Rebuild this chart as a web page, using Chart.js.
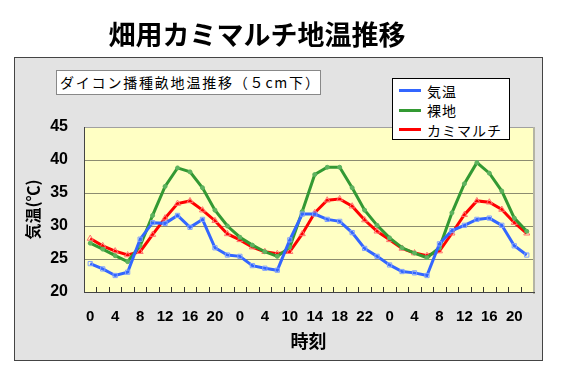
<!DOCTYPE html>
<html>
<head>
<meta charset="utf-8">
<script src="https://cdn.jsdelivr.net/npm/chart.js@4.4.1/dist/chart.umd.min.js"></script>
<style>
    body { margin: 0; width: 568px; height: 381px; background: #fff; position: relative; overflow: hidden; font-family: "Noto Sans CJK JP", sans-serif; }
    #frame { position: absolute; left: 14px; top: 57px; width: 527px; height: 302px; background: #e3e3e3; border: 1px solid #444; }
    #tempGraph { position: absolute; left: 0; top: 0; }
    #title { position: absolute; left: 0; top: 16px; width: 514px; text-align: center; font-weight: bold; font-size: 27px; line-height: 36px; color: #000; }
    #subTitle { position: absolute; left: 56px; top: 70px; width: 260px; height: 23px; padding-left: 3px; background: #fff; border: 1px solid #888; font-size: 14px; line-height: 23px; letter-spacing: 1.8px; white-space: nowrap; color: #000; }
    #legend { position: absolute; left: 392px; top: 78px; width: 116px; height: 58px; padding-top: 2px; background: #fff; border: 1px solid #000; }
    .row { height: 19.5px; display: flex; align-items: center; font-size: 14px; letter-spacing: 1px; color: #000; }
    .swatch { width: 22px; height: 3px; margin: 0 6px 0 6px; }
</style>
</head>
<body>
<div id="frame"></div>
<canvas id="tempGraph" width="568" height="381"></canvas>
<div id="title">畑用カミマルチ地温推移</div>
<div id="subTitle">ダイコン播種畝地温推移（５cm下）</div>
<div id="legend"></div>
<script>
// time of day, one point every 2 hours (only every other label is shown)
const hours = ['0','2','4','6','8','10','12','14','16','18','20','22',
               '0','2','4','6','10','12','14','16','18','20','22','23',
               '0','2','4','6','8','10','12','14','16','18','20','22'];

const airTemp = [24.3, 23.5, 22.5, 23.0, 28.0, 30.5, 30.4, 31.6, 29.8, 31.0, 26.7, 25.6,
                 25.4, 24.0, 23.6, 23.3, 27.9, 31.8, 31.8, 31.0, 30.7, 29.0, 26.6, 25.4,
                 24.1, 23.1, 22.9, 22.5, 27.3, 29.3, 30.1, 31.0, 31.2, 30.1, 27.0, 25.6];
const bareSoil = [27.4, 26.5, 25.5, 24.6, 27.0, 31.6, 36.0, 38.8, 38.2, 35.8, 32.4, 30.0,
                  28.3, 27.1, 26.1, 25.4, 26.8, 32.2, 37.8, 38.9, 38.9, 35.8, 32.4, 30.1,
                  28.2, 26.7, 25.9, 25.2, 26.7, 32.0, 36.4, 39.6, 38.0, 35.3, 31.2, 29.2];
const kamiMulch = [28.1, 27.0, 26.2, 25.6, 26.1, 28.7, 31.2, 33.4, 33.8, 32.4, 30.8, 28.8,
                   27.9, 26.8, 26.1, 25.8, 26.1, 28.8, 32.0, 33.9, 34.1, 33.0, 30.9, 29.2,
                   27.9, 26.6, 25.9, 25.5, 26.2, 28.9, 31.7, 33.8, 33.6, 32.5, 30.5, 28.9];

const seriesNames = ['気温', '裸地', 'カミマルチ'];
const seriesColors = ['#3366ff', '#339933', '#ff0000'];
const yTicks = [20, 25, 30, 35, 40, 45];

const plotYellow = '#ffffc4';
const gridColor = '#8c8c70';
const numFont = '"Liberation Sans", Arial, sans-serif';
const jpFont = '"Noto Sans CJK JP", sans-serif';

// background, frame and inside tick marks of the plot area
const plotFrame = {
    id: 'plotFrame',
    beforeDraw(chart) {
        const { ctx, chartArea: a } = chart;
        ctx.save();
        ctx.fillStyle = plotYellow;
        ctx.fillRect(a.left, a.top, a.right - a.left, a.bottom - a.top);
        ctx.restore();
    },
    beforeDatasetsDraw(chart) {
        const { ctx, chartArea: a, scales } = chart;
        const x = scales.x;
        ctx.save();
        ctx.lineWidth = 1;
        ctx.strokeStyle = '#a0a0a0';
        ctx.beginPath();
        ctx.moveTo(a.left, a.top + 0.5);
        ctx.lineTo(a.right, a.top + 0.5);
        ctx.stroke();
        ctx.fillStyle = '#b4b4a4';
        ctx.fillRect(a.right, a.top, 2, a.bottom - a.top + 2);
        ctx.strokeStyle = '#444';
        ctx.beginPath();
        ctx.moveTo(a.left + 0.5, a.top);
        ctx.lineTo(a.left + 0.5, a.bottom);
        ctx.moveTo(a.left, a.bottom + 0.5);
        ctx.lineTo(a.right + 2, a.bottom + 0.5);
        ctx.stroke();
        const step = x.getPixelForValue(1) - x.getPixelForValue(0);
        ctx.strokeStyle = '#333';
        ctx.beginPath();
        for (let i = 1; i < hours.length; i++) {
            const px = Math.round(x.getPixelForValue(i) - step / 2) + 0.5;
            ctx.moveTo(px, a.bottom);
            ctx.lineTo(px, a.bottom - 5);
        }
        ctx.stroke();
        ctx.restore();
    }
};

const pointStyles = ['rect', 'circle', 'triangle'];
const pointColors = ['#7f9fff', '#5fb35f', '#ff7070'];
const pointSizes = [3, 2, 3.5];

const chartData = {
    labels: hours,
    datasets: [airTemp, bareSoil, kamiMulch].map((vals, k) => ({
        label: seriesNames[k],
        data: vals,
        borderColor: seriesColors[k],
        borderWidth: 3,
        tension: 0,
        fill: false,
        pointStyle: pointStyles[k],
        pointRadius: pointSizes[k],
        pointBorderWidth: 1,
        pointBorderColor: pointColors[k],
        pointBackgroundColor: k === 1 ? pointColors[k] : 'rgba(0,0,0,0)'
    }))
};

new Chart(document.getElementById('tempGraph'), {
    type: 'line',
    data: chartData,
    plugins: [plotFrame],
    options: {
        responsive: false,
        animation: false,
        devicePixelRatio: 1,
        layout: { padding: { top: 127, right: 35, left: 0, bottom: 0 } },
        plugins: {
            legend: { display: false },
            tooltip: { enabled: false }
        },
        scales: {
            x: {
                offset: true,
                grid: { display: false, drawTicks: false },
                border: { display: false },
                ticks: {
                    autoSkip: false,
                    maxRotation: 0,
                    padding: 16,
                    color: '#000',
                    font: { family: numFont, size: 15, weight: 'bold' },
                    callback: function(value, index) {
                        return index % 2 === 0 ? hours[index] : '';
                    }
                },
                title: {
                    display: true,
                    text: '時刻',
                    color: '#000',
                    font: { family: jpFont, size: 18, weight: 'bold' },
                    padding: { top: 0, bottom: 29 }
                },
                afterFit: s => { s.height = 89; }
            },
            y: {
                min: yTicks[0],
                max: yTicks[yTicks.length - 1],
                border: { display: false },
                grid: {
                    drawTicks: false,
                    color: c => (c.tick.value === yTicks[0] || c.tick.value === yTicks[yTicks.length - 1]) ? 'rgba(0,0,0,0)' : gridColor
                },
                afterBuildTicks: s => { s.ticks = yTicks.map(v => ({ value: v })); },
                ticks: {
                    padding: 16,
                    color: '#000',
                    font: { family: numFont, size: 16, weight: 'bold' }
                },
                title: {
                    display: true,
                    text: '気温(℃)',
                    color: '#000',
                    font: { family: jpFont, size: 16, weight: 'bold' },
                    padding: { top: 23, bottom: 0 }
                },
                afterFit: s => { s.width = 84; }
            }
        }
    }
});

// html legend box, built from the series names and colours
const legendBox = document.getElementById('legend');
seriesNames.forEach((name, k) => {
    const row = document.createElement('div');
    row.className = 'row';
    const sw = document.createElement('span');
    sw.className = 'swatch';
    sw.style.background = seriesColors[k];
    row.appendChild(sw);
    row.appendChild(document.createTextNode(name));
    legendBox.appendChild(row);
});
</script>
</body>
</html>
